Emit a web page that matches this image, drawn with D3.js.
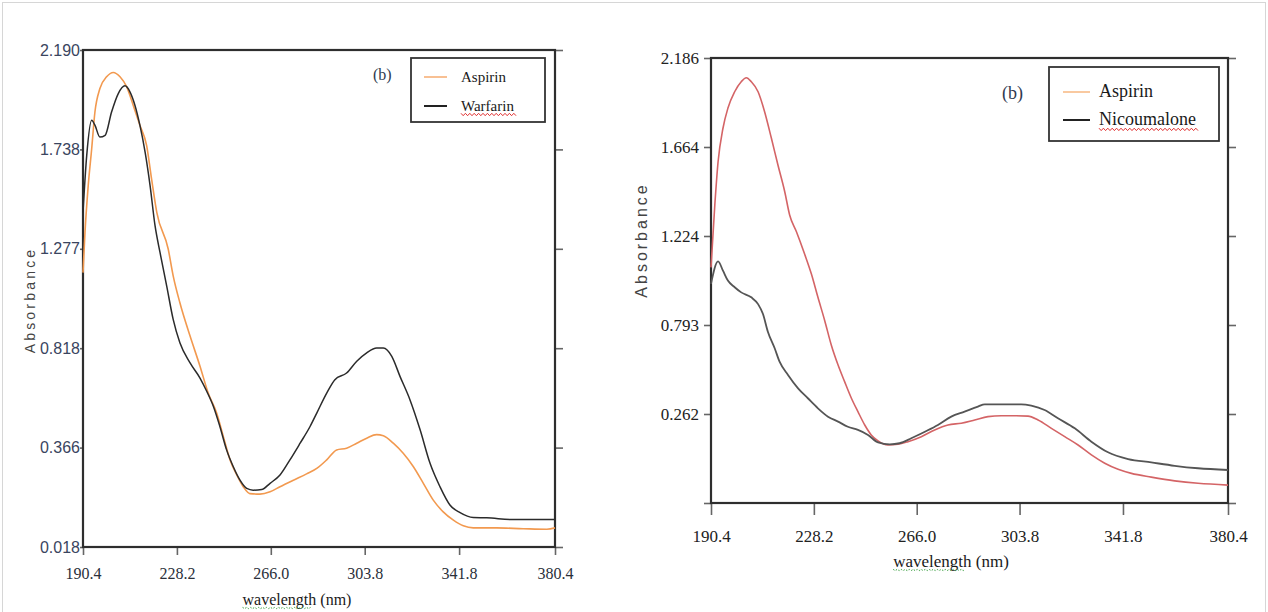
<!DOCTYPE html>
<html>
<head>
<meta charset="utf-8">
<script src="https://cdn.jsdelivr.net/npm/d3@7"></script>
<style>
  html, body { margin: 0; padding: 0; background: #fff; }
  svg { display: block; }
</style>
</head>
<body>
<svg id="chart" width="1268" height="612"></svg>
<script>
// ---------- DATA ----------
const wavelengthTicks = [190.4, 228.2, 266.0, 303.8, 341.8, 380.4];

// Panel A (Aspirin / Warfarin)
const absTicksA = [0.018, 0.366, 0.818, 1.277, 1.738, 2.190];
const seriesNamesA = ["Aspirin", "Warfarin"];
const aspirinA = [
  [190.4,1.167],[191.2,1.353],[192.5,1.570],[193.9,1.741],[195.2,1.908],[197.2,2.015],
  [199.9,2.068],[202.6,2.088],[205.3,2.068],[208.0,2.022],[210.6,1.939],[213.3,1.848],
  [216.0,1.756],[218.0,1.601],[220.1,1.446],[224.7,1.276],[226.7,1.152],[229.4,1.028],
  [233.5,0.874],[237.5,0.736],[240.8,0.614],[244.2,0.523],[246.9,0.416],[249.6,0.323],
  [252.3,0.270],[254.9,0.229],[257.6,0.205],[261.6,0.203],[265.7,0.211],[269.7,0.229],
  [275.1,0.252],[280.4,0.274],[284.5,0.293],[288.5,0.323],[292.5,0.358],[296.5,0.364],
  [300.6,0.386],[304.6,0.409],[308.6,0.425],[311.3,0.420],[315.3,0.386],[319.3,0.346],
  [323.4,0.299],[327.4,0.241],[331.4,0.182],[335.4,0.141],[339.5,0.112],[343.5,0.092],
  [347.5,0.085],[356.9,0.085],[367.6,0.082],[377.1,0.080],[380.4,0.085]
];
const warfarin = [
  [190.4,1.446],[191.9,1.710],[193.9,1.870],[195.2,1.848],[197.2,1.794],[199.3,1.802],
  [201.9,1.908],[204.6,1.992],[207.3,2.027],[209.3,2.000],[211.3,1.939],[213.3,1.848],
  [215.4,1.725],[217.4,1.570],[219.4,1.384],[221.4,1.260],[224.1,1.105],[226.7,0.951],
  [229.4,0.843],[233.5,0.751],[237.5,0.682],[240.2,0.622],[242.9,0.553],[245.5,0.462],
  [248.2,0.358],[250.9,0.299],[253.6,0.252],[256.3,0.223],[258.9,0.217],[262.3,0.219],
  [265.7,0.241],[269.7,0.270],[273.7,0.323],[277.8,0.386],[281.8,0.462],[284.5,0.523],
  [288.5,0.614],[291.8,0.675],[296.5,0.705],[300.6,0.759],[304.6,0.797],[308.6,0.819],
  [311.3,0.819],[314.7,0.781],[318.0,0.690],[322.0,0.584],[326.1,0.447],[330.1,0.311],
  [334.1,0.229],[338.1,0.165],[342.2,0.138],[347.5,0.121],[352.9,0.120],[363.6,0.114],
  [380.4,0.114]
];

// Panel B (Aspirin / Nicoumalone)
const absTicksB = [-0.24, 0.262, 0.793, 1.224, 1.664, 2.186];
const absTickLabelsB = ["", "0.262", "0.793", "1.224", "1.664", "2.186"];
const seriesNamesB = ["Aspirin", "Nicoumalone"];
const aspirinB = [
  [190.4,1.072],[191.8,1.377],[193.0,1.591],[194.8,1.774],[196.6,1.891],[199.1,1.988],
  [201.5,2.047],[203.4,2.070],[205.2,2.047],[207.7,1.988],[210.1,1.871],[212.6,1.715],
  [215.0,1.575],[217.5,1.443],[219.3,1.328],[221.8,1.245],[224.8,1.137],[227.3,1.040],
  [229.7,0.927],[232.2,0.814],[234.6,0.674],[237.1,0.554],[239.5,0.455],[242.0,0.356],
  [244.4,0.276],[246.9,0.200],[249.3,0.144],[251.8,0.110],[255.4,0.087],[259.1,0.091],
  [262.8,0.106],[267.7,0.134],[272.6,0.172],[277.5,0.200],[282.4,0.210],[287.3,0.228],
  [292.2,0.247],[297.1,0.252],[302.0,0.252],[306.9,0.250],[310.6,0.228],[315.5,0.181],
  [320.4,0.134],[325.3,0.087],[330.2,0.031],[335.1,-0.016],[340.0,-0.050],[344.9,-0.073],
  [352.2,-0.094],[360.8,-0.115],[369.4,-0.129],[380.4,-0.139]
];
const nicoumalone = [
  [190.4,0.992],[193.0,1.101],[194.8,1.056],[196.6,1.008],[199.1,0.976],[201.5,0.951],
  [205.2,0.927],[207.7,0.894],[209.5,0.846],[211.3,0.753],[213.8,0.654],[215.6,0.574],
  [218.7,0.495],[222.4,0.415],[226.0,0.356],[229.7,0.296],[233.4,0.247],[237.1,0.219],
  [240.7,0.190],[244.4,0.172],[248.1,0.144],[251.8,0.102],[256.1,0.091],[259.7,0.097],
  [264.0,0.125],[269.0,0.162],[273.8,0.200],[278.7,0.247],[283.6,0.276],[288.5,0.306],
  [291.0,0.320],[297.1,0.320],[304.4,0.320],[308.1,0.312],[313.0,0.286],[317.9,0.238],
  [324.1,0.181],[330.2,0.106],[336.3,0.046],[343.7,0.008],[352.2,-0.011],[360.8,-0.030],
  [369.4,-0.044],[380.4,-0.054]
];

// ---------- DRAW ----------
const svg = d3.select("#chart");
svg.append("rect").attr("x", 2.5).attr("y", 2.5).attr("width", 1263).attr("height", 612)
  .attr("fill", "none").attr("stroke", "#d6d6d6");

function evenRange(n, bottom, top) {
  return d3.range(n).map(i => bottom - i * (bottom - top) / (n - 1));
}

function zigzag(g, x0, x1, y, color, amp, step, dash) {
  const pts = [];
  for (let x = x0, k = 0; x <= x1; x += step, k++) pts.push([x, y + (k % 2 ? amp : -amp)]);
  g.append("path").attr("d", d3.line()(pts)).attr("fill", "none")
    .attr("stroke", color).attr("stroke-width", 1).attr("stroke-dasharray", dash || null);
}

const SERIF = "'Liberation Serif', 'Times New Roman', serif";

function panel(cfg) {
  const g = svg.append("g");
  const x = d3.scaleLinear().domain([wavelengthTicks[0], wavelengthTicks[wavelengthTicks.length - 1]])
    .range([cfg.left, cfg.right]);
  const y = d3.scaleLinear().domain(cfg.yTicks).range(evenRange(cfg.yTicks.length, cfg.bottom, cfg.top));

  const ax = g.append("g").attr("transform", `translate(0,${cfg.bottom})`)
    .call(d3.axisBottom(x).tickValues(wavelengthTicks).tickFormat(d3.format(".1f"))
      .tickSizeOuter(0).tickSize(cfg.xTickSize).tickPadding(cfg.xTickPad));
  const ay = g.append("g").attr("transform", `translate(${cfg.left},0)`)
    .call(d3.axisLeft(y).tickValues(cfg.yTicks).tickFormat((d, i) => cfg.yLabels[i])
      .tickSizeOuter(0).tickSize(cfg.yTickSize).tickPadding(cfg.yTickPad));
  const ayr = g.append("g").attr("transform", `translate(${cfg.right},0)`)
    .call(d3.axisRight(y).tickValues(cfg.yTicks).tickFormat("").tickSizeOuter(0).tickSize(8));
  [ax, ay, ayr].forEach(a => {
    a.select(".domain").remove();
    a.selectAll(".tick line").attr("stroke", "#666").attr("stroke-width", 1.6);
  });
  ax.attr("font-family", null).attr("font-size", null);
  ay.attr("font-family", null).attr("font-size", null);
  ax.selectAll("text").style("font-family", cfg.xFont).style("font-size", cfg.xFontSize + "px")
    .attr("fill", cfg.xColor);
  ay.selectAll("text").style("font-family", cfg.yFont).style("font-size", cfg.yFontSize + "px")
    .style("font-weight", cfg.yWeight || "normal").attr("fill", cfg.yColor);

  g.append("rect").attr("x", cfg.left).attr("y", cfg.top)
    .attr("width", cfg.right - cfg.left).attr("height", cfg.bottom - cfg.top)
    .attr("fill", "none").attr("stroke", "#2e2e2e").attr("stroke-width", 2.2);

  const line = d3.line().x(d => x(d[0])).y(d => y(d[1])).curve(d3.curveMonotoneX);
  cfg.series.forEach(s => {
    g.append("path").datum(s.data).attr("d", line).attr("fill", "none")
      .attr("stroke", s.color).attr("stroke-width", s.width || 1.6);
  });

  g.append("text").attr("x", cfg.bX).attr("y", cfg.bY).text("(b)")
    .style("font-family", SERIF).style("font-size", cfg.bSize + "px").attr("fill", "#2f3a4f");

  const L = cfg.legend;
  g.append("rect").attr("x", L.x).attr("y", L.y).attr("width", L.w).attr("height", L.h)
    .attr("fill", "#fff").attr("stroke", "#333").attr("stroke-width", 1.8);
  cfg.series.forEach((s, i) => {
    const yy = L.y + L.row0 + i * L.rowH;
    g.append("line").attr("x1", L.x + L.sw0).attr("x2", L.x + L.sw1).attr("y1", yy).attr("y2", yy)
      .attr("stroke", s.legendColor).attr("stroke-width", 2);
    g.append("text").attr("x", L.x + L.tx).attr("y", yy + L.fs * 0.3).text(s.name)
      .style("font-family", SERIF).style("font-size", L.fs + "px").attr("fill", "#1a1a1a");
    if (s.wavy) zigzag(g, L.x + L.tx, L.x + L.tx + s.wavy, yy + L.fs * 0.3 + 4, "#e03030", 1.2, 2.2);
  });

  g.append("text").attr("transform", `translate(${cfg.yTitleX},${cfg.yTitleY}) rotate(-90)`)
    .attr("text-anchor", "middle").text("Absorbance")
    .style("font-family", "'Liberation Sans', Arial, sans-serif").style("font-size", cfg.yTitleSize + "px")
    .attr("letter-spacing", cfg.yTitleLS).attr("fill", "#444");
  const xt = g.append("text").attr("x", cfg.xTitleX).attr("y", cfg.xTitleY).attr("text-anchor", "middle")
    .text("wavelength (nm)").style("font-family", SERIF)
    .style("font-size", cfg.xTitleSize + "px").attr("fill", "#1a1a1a");
  const bb = xt.node().getBBox();
  zigzag(g, bb.x, bb.x + bb.width * 0.63, cfg.xTitleY + 3, "#3aa040", 0.6, 2, "1.5 1.5");
  return g;
}

panel({
  left: 83, right: 555, top: 50, bottom: 547,
  yTicks: absTicksA, yLabels: absTicksA.map(d3.format(".3f")),
  xTickSize: 8, xTickPad: 13, yTickSize: 3, yTickPad: 0,
  xFont: SERIF, xFontSize: 16, xColor: "#2a2f3a",
  yFont: "'Liberation Sans Narrow', 'Arial Narrow', 'Liberation Sans', sans-serif", yFontSize: 16,
  yColor: "#3a4560",
  series: [
    { name: seriesNamesA[0], data: aspirinA, color: "#f2994f", legendColor: "#f8c093", width: 1.6 },
    { name: seriesNamesA[1], data: warfarin, color: "#2b2b2b", legendColor: "#222", width: 1.5, wavy: 57 }
  ],
  bX: 373, bY: 80, bSize: 16,
  legend: { x: 411, y: 58, w: 134, h: 64, row0: 19, rowH: 29, sw0: 13, sw1: 36, tx: 50, fs: 15 },
  yTitleX: 35, yTitleY: 300, yTitleSize: 14, yTitleLS: 3.2,
  xTitleX: 297, xTitleY: 605, xTitleSize: 16
});

panel({
  left: 711, right: 1228, top: 58, bottom: 503,
  yTicks: absTicksB, yLabels: absTickLabelsB,
  xTickSize: 12, xTickPad: 15, yTickSize: 7, yTickPad: 5,
  xFont: SERIF, xFontSize: 17, xColor: "#222",
  yFont: SERIF, yFontSize: 17, yColor: "#222",
  series: [
    { name: seriesNamesB[0], data: aspirinB, color: "#d46466", legendColor: "#f9c9a0", width: 1.6 },
    { name: seriesNamesB[1], data: nicoumalone, color: "#555555", legendColor: "#222", width: 1.8, wavy: 101 }
  ],
  bX: 1002, bY: 99, bSize: 18,
  legend: { x: 1049, y: 67, w: 170, h: 74, row0: 25, rowH: 28, sw0: 14, sw1: 41, tx: 50, fs: 18 },
  yTitleX: 647, yTitleY: 240, yTitleSize: 16, yTitleLS: 3,
  xTitleX: 951, xTitleY: 567, xTitleSize: 17
});
</script>
</body>
</html>
